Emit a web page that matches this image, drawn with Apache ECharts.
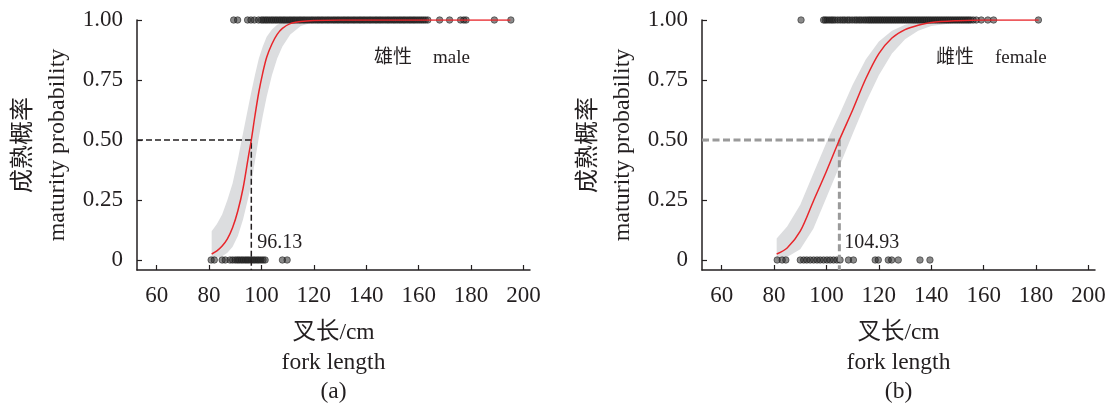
<!DOCTYPE html>
<html><head><meta charset="utf-8">
<script src="https://cdn.jsdelivr.net/npm/echarts@6/dist/echarts.min.js"></script>
<style>html,body{margin:0;padding:0;background:#fff}#c{width:1110px;height:406px}</style>
</head><body><div id="c"></div>
<script>
const xTicks = [60, 80, 100, 120, 140, 160, 180, 200];
const yTicks = [0, 0.25, 0.5, 0.75, 1];

// male (a)
const maleL50 = 96.13;
const maleMature = [89.4, 90.9, 94.7, 96.0, 97.3, 98.9, 100.0, 100.7, 101.5, 102.2, 103.0, 103.8, 104.5, 105.3, 106.0, 106.8, 107.5, 108.3, 109.0, 109.8, 110.6, 111.3, 112.1, 112.8, 113.6, 114.4, 115.1, 115.9, 116.6, 117.4, 118.2, 119.0, 119.7, 120.5, 121.3, 122.0, 122.8, 123.5, 124.3, 125.1, 125.8, 126.6, 127.4, 128.1, 128.9, 129.6, 130.4, 131.2, 131.9, 132.7, 133.4, 134.2, 135.0, 135.7, 136.5, 137.3, 138.0, 138.8, 139.5, 140.3, 141.1, 141.8, 142.6, 143.4, 144.1, 144.9, 145.6, 146.4, 147.2, 148.0, 148.7, 149.5, 150.3, 151.0, 151.8, 152.6, 153.3, 154.1, 154.8, 155.6, 156.4, 157.1, 157.9, 158.6, 159.4, 160.2, 161.0, 161.8, 162.6, 163.5, 168.0, 171.8, 176.0, 177.2, 178.1, 188.9, 195.2];
const maleImmature = [80.8, 82.0, 85.0, 86.2, 88.0, 89.0, 90.0, 90.8, 91.5, 92.3, 93.0, 93.8, 94.5, 95.2, 96.0, 96.8, 97.5, 98.3, 99.0, 99.8, 100.6, 101.4, 108.0, 109.8];
const maleCurveL = [81, 83, 85, 87, 89, 91, 93, 95, 96.13, 97.5, 99, 100.5, 102, 104, 106, 108, 111, 115, 120, 130, 195];
const maleCurveP = [0.025, 0.038, 0.058, 0.088, 0.135, 0.205, 0.30, 0.43, 0.50, 0.60, 0.70, 0.78, 0.845, 0.90, 0.94, 0.965, 0.985, 0.994, 0.998, 1, 1];
const maleBandL = [81, 83, 85, 87, 89, 91, 93, 95, 96.13, 97.5, 99, 100.5, 102, 104, 106, 108, 111, 115, 120, 125, 130];
const maleHi = [0.12, 0.15, 0.19, 0.25, 0.32, 0.42, 0.53, 0.64, 0.70, 0.77, 0.84, 0.89, 0.93, 0.96, 0.98, 0.99, 0.997, 1, 1, 1, 1];
const maleLo = [0.005, 0.009, 0.016, 0.03, 0.055, 0.10, 0.17, 0.26, 0.32, 0.41, 0.51, 0.60, 0.68, 0.77, 0.84, 0.89, 0.94, 0.975, 0.992, 0.998, 1];

// female (b)
const femL50 = 104.93;
const femMature = [90.3, 98.9, 99.5, 100.2, 101.0, 101.8, 102.5, 103.3, 104.3, 105.3, 106.2, 107.0, 108.0, 108.8, 109.8, 110.8, 111.6, 112.5, 113.3, 114.2, 115.0, 115.8, 116.5, 117.2, 117.9, 118.6, 119.3, 120.0, 120.7, 121.4, 122.1, 122.8, 123.5, 124.2, 124.9, 125.6, 126.3, 127.0, 127.7, 128.4, 129.1, 129.8, 130.5, 131.2, 131.9, 132.6, 133.3, 134.0, 134.7, 135.4, 136.1, 136.8, 137.5, 138.2, 138.9, 139.6, 140.3, 141.0, 141.7, 142.4, 143.1, 143.8, 144.5, 145.2, 145.9, 146.6, 147.3, 148.0, 148.7, 149.4, 150.1, 150.8, 151.5, 152.2, 152.9, 153.6, 154.3, 155.0, 156.0, 157.2, 159.1, 161.6, 163.8, 180.9];
const femImmature = [81.2, 83.1, 84.5, 90.0, 91.3, 92.5, 93.8, 95.1, 96.4, 97.6, 98.9, 100.2, 101.4, 102.7, 104.0, 105.2, 108.4, 110.3, 118.6, 119.8, 123.6, 124.9, 127.4, 135.7, 139.5];
const femCurveL = [81, 85, 90, 95, 100, 104.93, 110, 115, 120, 125, 130, 135, 140, 150, 160, 181];
const femCurveP = [0.025, 0.05, 0.12, 0.245, 0.37, 0.50, 0.625, 0.755, 0.86, 0.925, 0.96, 0.978, 0.99, 0.997, 1, 1];
const femBandL = [81, 85, 90, 95, 100, 104.93, 110, 115, 120, 125, 130, 135, 140, 150, 160, 170];
const femHi = [0.09, 0.14, 0.23, 0.36, 0.49, 0.605, 0.73, 0.835, 0.91, 0.955, 0.98, 0.992, 0.997, 1, 1, 1];
const femLo = [0.004, 0.012, 0.045, 0.13, 0.26, 0.39, 0.525, 0.655, 0.77, 0.86, 0.92, 0.955, 0.975, 0.99, 0.997, 1];

const X_MIN = 52.5, X_MAX = 202.5, Y_MIN = -0.0417, Y_MAX = 1;
const FONT = "'Liberation Serif', 'Times New Roman', 'Noto Sans CJK SC', serif";
const TXT = '#231f20';

function xAxis(i, tag) {
  return {
    gridIndex: i, type: 'value', min: X_MIN, max: X_MAX,
    axisLine: { show: true, onZero: false, lineStyle: { color: TXT, width: 1.5 } },
    axisTick: { show: true, inside: true, length: 5, customValues: xTicks, lineStyle: { color: TXT, width: 1.2 } },
    axisLabel: { customValues: xTicks, fontSize: 23, fontFamily: FONT, color: TXT, margin: 14 },
    splitLine: { show: false },
    name: '叉长/cm\nfork length\n' + tag, nameLocation: 'middle', nameGap: 48.5, nameMoveOverlap: false,
    nameTextStyle: { fontSize: 23.5, lineHeight: 29.5, fontFamily: FONT, color: TXT }
  };
}
function yAxis(i) {
  return {
    gridIndex: i, type: 'value', min: Y_MIN, max: Y_MAX,
    axisLine: { show: true, onZero: false, lineStyle: { color: TXT, width: 1.5 } },
    axisTick: { show: true, inside: true, length: 5, customValues: yTicks, lineStyle: { color: TXT, width: 1.2 } },
    axisLabel: { customValues: yTicks, fontSize: 23, fontFamily: FONT, color: TXT, margin: 14,
      formatter: v => v === 0 ? '0' : v.toFixed(2) },
    splitLine: { show: false },
    name: '成熟概率\nmaturity probability', nameLocation: 'middle', nameGap: 62, nameMoveOverlap: false,
    nameTextStyle: { fontSize: 24, lineHeight: 34, fontFamily: FONT, color: TXT }
  };
}
function bandSeries(i, L, hi, lo) {
  return {
    type: 'custom', xAxisIndex: i, yAxisIndex: i, data: [0], silent: true, z: 1, clip: false,
    renderItem: (params, api) => {
      const pts = [];
      for (let k = 0; k < L.length; k++) pts.push(api.coord([L[k], hi[k]]));
      for (let k = L.length - 1; k >= 0; k--) pts.push(api.coord([L[k], lo[k]]));
      return { type: 'polygon', shape: { points: pts }, style: { fill: '#dcdddf' } };
    }
  };
}
function scatterSeries(i, arr, p) {
  return {
    type: 'scatter', xAxisIndex: i, yAxisIndex: i, data: arr.map(v => [v, p]),
    symbolSize: 6.5, clip: false, z: 3, silent: true,
    itemStyle: { color: 'rgba(30,30,30,0.65)', borderColor: 'rgba(30,30,30,0.85)', borderWidth: 0.8 }
  };
}
function curveSeries(i, L, P) {
  return {
    type: 'line', xAxisIndex: i, yAxisIndex: i, data: L.map((v, k) => [v, P[k]]),
    smooth: 0.3, symbol: 'none', z: 5, silent: true,
    lineStyle: { color: '#e8262b', width: 1.5 }
  };
}
function dashSeries(i, l50, color, width, dash) {
  return {
    type: 'line', xAxisIndex: i, yAxisIndex: i,
    data: [[X_MIN, 0.5], [l50, 0.5], [l50, Y_MIN]],
    symbol: 'none', z: 4, silent: true, clip: false,
    lineStyle: { color: color, width: width, type: dash }
  };
}
function labelSeries(i, l50, dist) {
  return {
    type: 'scatter', xAxisIndex: i, yAxisIndex: i, data: [[l50, 0.07]], symbolSize: 0, z: 6, silent: true,
    itemStyle: { color: TXT, opacity: 1 },
    label: { show: true, position: 'right', distance: dist, formatter: l50.toFixed(2),
      fontSize: 20, fontFamily: FONT, color: TXT, opacity: 1 }
  };
}

const chart = echarts.init(document.getElementById('c'), null, { renderer: 'canvas' });
chart.setOption({
  animation: false,
  backgroundColor: '#fff',
  grid: [
    { left: 137, top: 20, width: 393, height: 250, containLabel: false, outerBoundsMode: 'none' },
    { left: 702, top: 20, width: 393, height: 250, containLabel: false, outerBoundsMode: 'none' }
  ],
  xAxis: [xAxis(0, '(a)'), xAxis(1, '(b)')],
  yAxis: [yAxis(0), yAxis(1)],
  series: [
    bandSeries(0, maleBandL, maleHi, maleLo),
    scatterSeries(0, maleMature, 1),
    scatterSeries(0, maleImmature, 0),
    dashSeries(0, maleL50, TXT, 1.5, [6, 3]),
    curveSeries(0, maleCurveL, maleCurveP),
    labelSeries(0, maleL50, 6),
    bandSeries(1, femBandL, femHi, femLo),
    scatterSeries(1, femMature, 1),
    scatterSeries(1, femImmature, 0),
    dashSeries(1, femL50, '#9a9a9a', 3, [7, 3.5]),
    curveSeries(1, femCurveL, femCurveP),
    labelSeries(1, femL50, 5)
  ],
  graphic: [
    { type: 'text', left: 374, top: 49, style: { text: '雄性', fontSize: 19, fontFamily: FONT, fill: TXT } },
    { type: 'text', left: 433, top: 49, style: { text: 'male', fontSize: 19, fontFamily: FONT, fill: TXT } },
    { type: 'text', left: 936, top: 49, style: { text: '雌性', fontSize: 19, fontFamily: FONT, fill: TXT } },
    { type: 'text', left: 995, top: 49, style: { text: 'female', fontSize: 19, fontFamily: FONT, fill: TXT } }
  ]
});
</script></body></html>
